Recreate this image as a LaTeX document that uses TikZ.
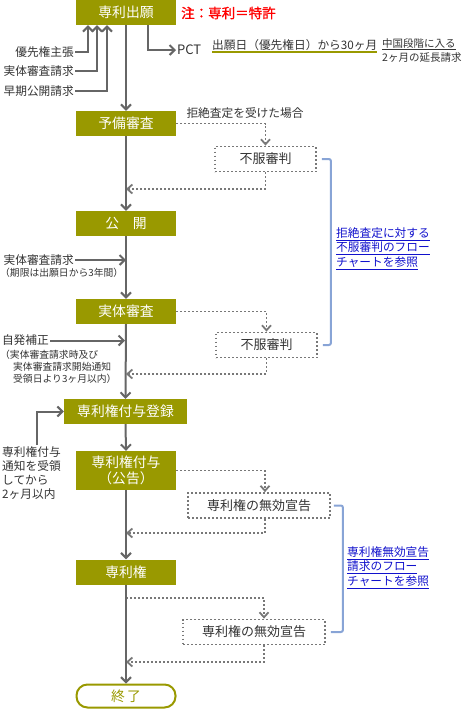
\documentclass[tikz,border=0pt]{standalone}
\usepackage{fontspec}
\setmainfont{Noto Sans CJK JP}[AutoFakeBold=1.2]
\usetikzlibrary{arrows.meta,positioning}
\definecolor{boxolive}{RGB}{153,153,0}
\definecolor{linegray}{RGB}{102,102,102}
\definecolor{dotgray}{RGB}{120,120,120}
\definecolor{textgray}{RGB}{51,51,51}
\definecolor{linkblue}{RGB}{17,17,204}
\definecolor{bracketblue}{RGB}{136,164,214}

\begin{document}
\begin{tikzpicture}[x=1pt,y=-1pt,
  stage/.style={rectangle,fill=boxolive,text=white,minimum width=100pt,minimum height=25pt,inner sep=0pt,font=\fontsize{13.8}{16}\selectfont},
  appealbox/.style={rectangle,draw=dotgray,line width=1.8pt,dash pattern=on 1.8pt off 2.2pt,text=textgray,minimum height=25pt,inner sep=0pt,font=\fontsize{13}{15}\selectfont},
  flow/.style={draw=linegray,line width=2pt,-{Straight Barb[length=5pt,width=10pt]}},
  dotflow/.style={draw=dotgray,line width=1.8pt,dash pattern=on 1.8pt off 2.2pt,-{Straight Barb[length=5pt,width=9pt]}},
  note/.style={text=textgray,inner sep=1pt,font=\fontsize{11.7}{14.3}\selectfont},
  smallnote/.style={text=textgray,inner sep=0pt,font=\fontsize{9.8}{12}\selectfont},
  link/.style={text=linkblue,align=left,inner sep=0pt,font=\fontsize{11.7}{14.5}\selectfont},
  bracket/.style={draw=bracketblue,line width=2pt,rounded corners=2pt}]
\useasboundingbox (0,0) rectangle (468,710);

% Application
\node[stage] (apply) at (126,12.5) {専利出願};
\node[text=red,anchor=west,inner sep=0pt,font=\fontsize{13.5}{16}\selectfont\bfseries] (memo) at (181,13) {注：専利＝特許};
\node[note,anchor=east] (prio) at (75,52) {優先権主張};
\node[note,anchor=east] (exreq) at (75,71) {実体審査請求};
\node[note,anchor=east] (early) at (75,91) {早期公開請求};
\draw[flow] (prio.east) -| ([xshift=-38pt]apply.south);
\draw[flow] (exreq.east) -| ([xshift=-29pt]apply.south);
\draw[flow] (early.east) -| ([xshift=-19pt]apply.south);

% PCT route
\node[text=textgray,anchor=west,inner sep=1pt,font=\fontsize{13}{15}\selectfont] (pct) at (176,50) {PCT};
\draw[flow] ([xshift=22pt]apply.south) |- (pct.west);
\node[note,anchor=base west,inner sep=0pt] (term) at (212,49) {出願日（優先権日）から30ヶ月};
\draw[boxolive,line width=2pt] ([yshift=-2.5pt]term.base west) -- ([yshift=-2.5pt]term.base east);
\node[text=textgray,align=left,anchor=north west,inner sep=0pt,font=\fontsize{10.5}{14}\selectfont] (china) at (382,38) {\underline{中国段階に入る}\\2ヶ月の延長請求};

% Preliminary examination
\node[stage] (prelim) at (126,123.5) {予備審査};
\draw[flow] (apply.south) -- (prelim.north);
\node[note] (reject) at (245,113) {拒絶査定を受けた場合};
\node[appealbox,minimum width=101pt] (appeal1) at (265.5,159) {不服審判};
\coordinate (back1) at (126,189);
\draw[dotflow] (prelim.east) -| (appeal1.north);
\draw[dotflow] (appeal1.south) |- (back1);

% Publication
\node[stage] (publ) at (126,223.5) {公　開};
\draw[flow] (prelim.south) -- (publ.north);
\node[note,anchor=east] (exreq2) at (75,260) {実体審査請求};
\node[smallnote,anchor=west] (limit) at (0,272.5) {（期限は出願日から3年間）};
\coordinate (join1) at (126,260);
\draw[flow] (exreq2.east) -- (join1);

% Substantive examination
\node[stage] (subst) at (126,311.5) {実体審査};
\draw[flow] (publ.south) -- (subst.north);
\node[appealbox,minimum width=101pt] (appeal2) at (266.5,345) {不服審判};
\coordinate (back2) at (126,374);
\draw[dotflow] (subst.east) -| (appeal2.north);
\draw[dotflow] (appeal2.south) |- (back2);
\node[note,anchor=east] (amend) at (50,340.5) {自発補正};
\coordinate (join2) at (125,340.5);
\draw[flow] (amend.east) -- (join2);
\node[smallnote,align=left,anchor=north west] (amendnote) at (0,350) {（実体審査請求時及び\\\hspace*{13pt}実体審査請求開始通知\\\hspace*{13pt}受領日より3ヶ月以内）};

% Registration and grant
\node[stage,minimum width=123pt] (reg) at (125.5,411.5) {専利権付与登録};
\draw[flow] (subst.south) -- (reg.north);
\node[note,align=left,anchor=north west] (notice) at (1,445) {専利権付与\\通知を受領\\してから\\2ヶ月以内};
\draw[flow] ([xshift=6pt]notice.north) |- (reg.west);
\node[stage,minimum height=39pt,align=center] (grant) at (126,470.5) {専利権付与\\（公告）};
\draw[flow] (reg.south) -- (grant.north);
\node[appealbox,minimum width=142pt] (inval1) at (259,505.5) {専利権の無効宣告};
\coordinate (back3) at (126,533);
\draw[dotflow] (grant.east) -| ([xshift=6pt]inval1.north);
\draw[dotflow] ([xshift=6pt]inval1.south) |- (back3);

% Patent right
\node[stage] (patent) at (126,572) {専利権};
\draw[flow] (grant.south) -- (patent.north);
\coordinate (fork4) at (126,598);
\node[appealbox,minimum width=142pt] (inval2) at (254,632) {専利権の無効宣告};
\coordinate (back4) at (126,662);
\draw[dotflow] (fork4) -| ([xshift=10pt]inval2.north);
\draw[dotflow] ([xshift=10pt]inval2.south) |- (back4);
\node[rectangle,rounded corners=11pt,draw=boxolive,line width=2pt,text=boxolive,minimum width=99pt,minimum height=23pt,inner sep=0pt,font=\fontsize{13.8}{16}\selectfont] (finish) at (126,696) {終\,了};
\draw[flow] (patent.south) -- (finish.north);

% References to other charts
\draw[bracket] ([xshift=5pt]appeal1.east) -- ++(9,0) |- ([xshift=5pt]appeal2.east);
\node[link,anchor=west] (seeappeal) at (336,248.5) {\underline{拒絶査定に対する}\\\underline{不服審判のフロー}\\\underline{チャートを参照}};
\draw[bracket] ([xshift=3pt]inval1.east) -- ++(9,0) |- ([xshift=5pt]inval2.east);
\node[link,anchor=west] (seeinval) at (347,567.5) {\underline{専利権無効宣告}\\\underline{請求のフロー}\\\underline{チャートを参照}};
\end{tikzpicture}
\end{document}
